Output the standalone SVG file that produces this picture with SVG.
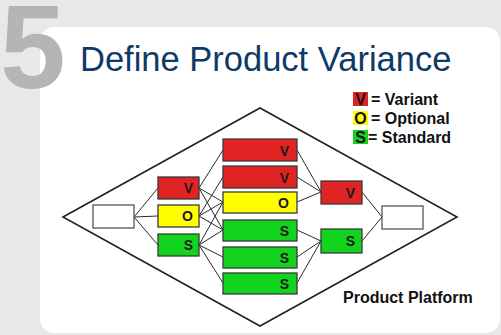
<svg xmlns="http://www.w3.org/2000/svg" width="501" height="335" viewBox="0 0 501 335">
  <style>
    .box { stroke: #3a3a3a; stroke-width: 1.3; }
    .red { fill: #e02424; }
    .yel { fill: #ffff00; }
    .grn { fill: #12d41e; }
    .blank { fill: #ffffff; stroke: #555555; stroke-width: 1.3; }
    .lbl { font-family: "Liberation Sans", Arial, sans-serif; font-weight: bold; font-size: 14px; fill: #1a1a1a; text-anchor: end; }
    .leg { font-family: "Liberation Sans", Arial, sans-serif; font-weight: bold; font-size: 16px; fill: #111111; }
    .wire { stroke: #2a2a2a; stroke-width: 1; fill: none; }
  </style>

  <!-- background and card -->
  <rect x="0" y="0" width="501" height="335" fill="#e8e8e8"/>
  <rect x="40" y="27" width="460" height="306" rx="14" ry="14" fill="#ffffff"/>

  <!-- step number and heading -->
  <text x="0" y="88" font-family="Liberation Sans, Arial, sans-serif" font-weight="bold" font-size="118" fill="#b5b5b5">5</text>
  <text x="80" y="71" font-family="Liberation Sans, Arial, sans-serif" font-size="34.5" fill="#0d3b66">Define Product Variance</text>

  <!-- legend -->
  <g id="legend">
    <rect x="353" y="92" width="15" height="14" class="red"/>
    <text x="360.5" y="105" class="leg" text-anchor="middle">V</text>
    <text x="371" y="105" class="leg">= Variant</text>
    <rect x="353" y="111" width="15" height="14" class="yel"/>
    <text x="360.5" y="124" class="leg" text-anchor="middle">O</text>
    <text x="371" y="124" class="leg">= Optional</text>
    <rect x="353" y="130" width="15" height="14" class="grn"/>
    <text x="360.5" y="143" class="leg" text-anchor="middle">S</text>
    <text x="368" y="143" class="leg">= Standard</text>
  </g>

  <!-- platform outline -->
  <g id="platform">
    <polygon points="63,217 260,108 457,217 260,326" fill="none" stroke="#222222" stroke-width="1.6"/>
    <text x="343" y="303" font-family="Liberation Sans, Arial, sans-serif" font-weight="bold" font-size="16" fill="#111111">Product Platform</text>
  </g>

  <!-- connectors -->
  <g id="connectors" class="wire">
    <line x1="134" y1="217" x2="158" y2="188"/>
    <line x1="134" y1="217" x2="158" y2="216"/>
    <line x1="134" y1="217" x2="158" y2="245"/>

    <line x1="199" y1="188" x2="223" y2="150"/>
    <line x1="199" y1="188" x2="223" y2="202"/>
    <line x1="199" y1="188" x2="223" y2="230"/>
    <line x1="199" y1="216" x2="223" y2="177"/>
    <line x1="199" y1="216" x2="223" y2="202"/>
    <line x1="199" y1="216" x2="223" y2="230"/>
    <line x1="199" y1="245" x2="223" y2="202"/>
    <line x1="199" y1="245" x2="223" y2="230"/>
    <line x1="199" y1="245" x2="223" y2="257"/>
    <line x1="199" y1="245" x2="223" y2="283"/>

    <line x1="297" y1="150" x2="321" y2="192"/>
    <line x1="297" y1="177" x2="321" y2="192"/>
    <line x1="297" y1="202" x2="321" y2="192"/>
    <line x1="297" y1="230" x2="321" y2="241"/>
    <line x1="297" y1="257" x2="321" y2="241"/>
    <line x1="297" y1="283" x2="321" y2="241"/>

    <line x1="362" y1="192" x2="382" y2="217"/>
    <line x1="362" y1="241" x2="382" y2="217"/>
  </g>

  <!-- input -->
  <g id="input"><rect x="93" y="205" width="41" height="23" class="blank"/></g>

  <!-- first stage -->
  <g id="a-v"><rect x="158" y="177" width="41" height="22" class="box red"/><text x="193" y="193" class="lbl">V</text></g>
  <g id="a-o"><rect x="158" y="205" width="41" height="22" class="box yel"/><text x="193" y="221" class="lbl">O</text></g>
  <g id="a-s"><rect x="158" y="234" width="41" height="22" class="box grn"/><text x="193" y="250" class="lbl">S</text></g>

  <!-- second stage -->
  <g id="b-v1"><rect x="223" y="139" width="74" height="22" class="box red"/><text x="289" y="155.5" class="lbl">V</text></g>
  <g id="b-v2"><rect x="223" y="166" width="74" height="22" class="box red"/><text x="289" y="182.5" class="lbl">V</text></g>
  <g id="b-o"><rect x="223" y="192" width="74" height="21" class="box yel"/><text x="289" y="208" class="lbl">O</text></g>
  <g id="b-s1"><rect x="223" y="220" width="74" height="21" class="box grn"/><text x="289" y="236" class="lbl">S</text></g>
  <g id="b-s2"><rect x="223" y="247" width="74" height="21" class="box grn"/><text x="289" y="263" class="lbl">S</text></g>
  <g id="b-s3"><rect x="223" y="273" width="74" height="21" class="box grn"/><text x="289" y="289" class="lbl">S</text></g>

  <!-- third stage -->
  <g id="c-v"><rect x="321" y="181" width="41" height="23" class="box red"/><text x="355" y="197.5" class="lbl">V</text></g>
  <g id="c-s"><rect x="321" y="229" width="41" height="24" class="box grn"/><text x="355" y="246" class="lbl">S</text></g>

  <!-- output -->
  <g id="output"><rect x="382" y="206" width="41" height="23" class="blank"/></g>
</svg>
